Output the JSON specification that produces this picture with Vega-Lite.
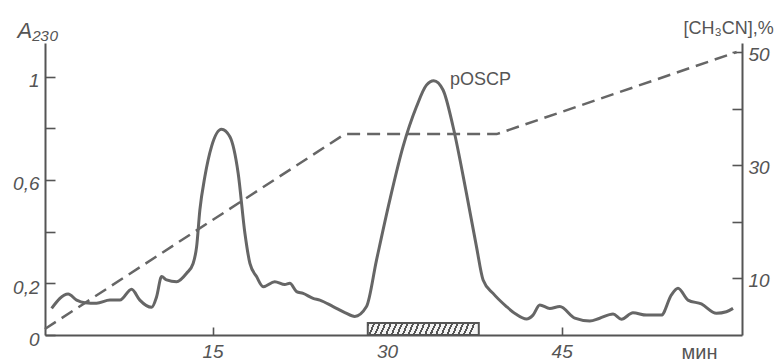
{
  "$schema": "https://vega.github.io/schema/vega-lite/v6.json",
  "autosize": {"type": "none"},
  "width": 697,
  "height": 292,
  "padding": {"left": 45, "top": 43, "right": 41, "bottom": 27},
  "background": "#ffffff",
  "config": {
    "view": {"stroke": null},
    "axis": {
      "grid": false,
      "domainColor": "#555555",
      "domainWidth": 2,
      "tickColor": "#555555",
      "tickWidth": 1.6,
      "labelFont": "Liberation Sans",
      "labelFontStyle": "italic",
      "labelFontSize": 19,
      "labelColor": "#555555",
      "titleFont": "Liberation Sans",
      "titleFontWeight": "normal",
      "titleColor": "#555555"
    }
  },
  "datasets": {
    "absorbance": [
      {"t": 1.17, "A": 0.103}, {"t": 2.59, "A": 0.159}, {"t": 3.32, "A": 0.135},
      {"t": 4.03, "A": 0.125}, {"t": 5.03, "A": 0.123}, {"t": 6.18, "A": 0.135},
      {"t": 7.04, "A": 0.135}, {"t": 8.04, "A": 0.177}, {"t": 8.75, "A": 0.135},
      {"t": 9.76, "A": 0.107}, {"t": 10.19, "A": 0.148}, {"t": 10.62, "A": 0.226},
      {"t": 11.05, "A": 0.213}, {"t": 11.91, "A": 0.206}, {"t": 12.77, "A": 0.239},
      {"t": 13.33, "A": 0.277}, {"t": 13.63, "A": 0.342}, {"t": 13.91, "A": 0.484},
      {"t": 14.34, "A": 0.613}, {"t": 14.91, "A": 0.729}, {"t": 15.77, "A": 0.796},
      {"t": 16.49, "A": 0.767}, {"t": 17.2, "A": 0.626}, {"t": 17.78, "A": 0.394},
      {"t": 18.21, "A": 0.277}, {"t": 18.78, "A": 0.226}, {"t": 19.35, "A": 0.187},
      {"t": 20.35, "A": 0.206}, {"t": 21.21, "A": 0.195}, {"t": 21.64, "A": 0.2},
      {"t": 22.22, "A": 0.168}, {"t": 22.78, "A": 0.161}, {"t": 23.64, "A": 0.142},
      {"t": 24.22, "A": 0.135}, {"t": 25.36, "A": 0.11}, {"t": 26.37, "A": 0.087},
      {"t": 27.22, "A": 0.072}, {"t": 28.23, "A": 0.11}, {"t": 29.09, "A": 0.29},
      {"t": 30.23, "A": 0.522}, {"t": 31.37, "A": 0.729}, {"t": 32.53, "A": 0.884},
      {"t": 33.38, "A": 0.967}, {"t": 34.01, "A": 0.984}, {"t": 34.81, "A": 0.948},
      {"t": 35.67, "A": 0.806}, {"t": 36.82, "A": 0.548}, {"t": 37.68, "A": 0.342},
      {"t": 38.25, "A": 0.213}, {"t": 39.11, "A": 0.161}, {"t": 40.26, "A": 0.11},
      {"t": 41.06, "A": 0.081}, {"t": 41.98, "A": 0.062}, {"t": 42.54, "A": 0.077},
      {"t": 43.12, "A": 0.116}, {"t": 43.98, "A": 0.103}, {"t": 44.84, "A": 0.11},
      {"t": 46.13, "A": 0.065}, {"t": 47.42, "A": 0.054}, {"t": 48.27, "A": 0.065},
      {"t": 49.42, "A": 0.081}, {"t": 50.14, "A": 0.061}, {"t": 51.13, "A": 0.086},
      {"t": 52.29, "A": 0.077}, {"t": 53.57, "A": 0.077}, {"t": 54.43, "A": 0.155},
      {"t": 55.0, "A": 0.181}, {"t": 55.86, "A": 0.135}, {"t": 57.01, "A": 0.12},
      {"t": 58.3, "A": 0.084}, {"t": 59.16, "A": 0.09}, {"t": 59.73, "A": 0.103}
    ],
    "gradient": [
      {"t": 0.59, "pct": 1.06},
      {"t": 26.36, "pct": 35.5},
      {"t": 39.42, "pct": 35.5},
      {"t": 60.04, "pct": 50.0}
    ],
    "fraction": [
      {"t": 28.34, "t1": 37.88, "A": 0, "a1": 0.046}
    ],
    "peakLabel": [
      {"t": 35.4, "A": 0.967, "label": "pOSCP"}
    ]
  },
  "layer": [
    {
      "layer": [
        {
          "data": {"name": "absorbance"},
          "mark": {"type": "line", "color": "#666666", "strokeWidth": 3, "interpolate": "monotone"},
          "encoding": {
            "x": {
              "field": "t", "type": "quantitative",
              "scale": {"domain": [0.6, 60.5], "nice": false, "zero": false},
              "axis": {
                "values": [15, 30, 45],
                "tickSize": -8,
                "labelPadding": 15,
                "title": "мин",
                "titleFontSize": 20,
                "titleFontStyle": "normal",
                "titleX": 654,
                "titleY": 17,
                "titleBaseline": "middle",
                "titleAlign": "center"
              }
            },
            "y": {
              "field": "A", "type": "quantitative",
              "scale": {"domain": [0, 1.13], "nice": false},
              "axis": {
                "values": [0, 0.2, 0.4, 0.6, 0.8, 1],
                "tickSize": -10,
                "labelPadding": 16,
                "labelOffset": 4,
                "labelExpr": "datum.value == 0.4 || datum.value == 0.8 ? '' : replace(format(datum.value, '.1~f'), '.', ',')",
                "title": "A₂₃₀",
                "titleFontSize": 22,
                "titleFontStyle": "italic",
                "titleAngle": 0,
                "titleAlign": "left",
                "titleBaseline": "alphabetic",
                "titleX": -28,
                "titleY": -6
              }
            }
          }
        },
        {
          "data": {"name": "fraction"},
          "mark": {
            "type": "rect",
            "stroke": "#555555",
            "strokeWidth": 2,
            "fill": {
              "gradient": "linear", "x1": 0, "y1": 0, "x2": 1, "y2": 0.046,
              "stops": [
                {"offset": 0, "color": "#555555"}, {"offset": 0.018, "color": "#555555"}, {"offset": 0.018, "color": "#f4f4f4"}, {"offset": 0.05, "color": "#f4f4f4"},
                {"offset": 0.05, "color": "#555555"}, {"offset": 0.068, "color": "#555555"}, {"offset": 0.068, "color": "#f4f4f4"}, {"offset": 0.1, "color": "#f4f4f4"},
                {"offset": 0.1, "color": "#555555"}, {"offset": 0.118, "color": "#555555"}, {"offset": 0.118, "color": "#f4f4f4"}, {"offset": 0.15, "color": "#f4f4f4"},
                {"offset": 0.15, "color": "#555555"}, {"offset": 0.168, "color": "#555555"}, {"offset": 0.168, "color": "#f4f4f4"}, {"offset": 0.2, "color": "#f4f4f4"},
                {"offset": 0.2, "color": "#555555"}, {"offset": 0.218, "color": "#555555"}, {"offset": 0.218, "color": "#f4f4f4"}, {"offset": 0.25, "color": "#f4f4f4"},
                {"offset": 0.25, "color": "#555555"}, {"offset": 0.268, "color": "#555555"}, {"offset": 0.268, "color": "#f4f4f4"}, {"offset": 0.3, "color": "#f4f4f4"},
                {"offset": 0.3, "color": "#555555"}, {"offset": 0.318, "color": "#555555"}, {"offset": 0.318, "color": "#f4f4f4"}, {"offset": 0.35, "color": "#f4f4f4"},
                {"offset": 0.35, "color": "#555555"}, {"offset": 0.368, "color": "#555555"}, {"offset": 0.368, "color": "#f4f4f4"}, {"offset": 0.4, "color": "#f4f4f4"},
                {"offset": 0.4, "color": "#555555"}, {"offset": 0.418, "color": "#555555"}, {"offset": 0.418, "color": "#f4f4f4"}, {"offset": 0.45, "color": "#f4f4f4"},
                {"offset": 0.45, "color": "#555555"}, {"offset": 0.468, "color": "#555555"}, {"offset": 0.468, "color": "#f4f4f4"}, {"offset": 0.5, "color": "#f4f4f4"},
                {"offset": 0.5, "color": "#555555"}, {"offset": 0.518, "color": "#555555"}, {"offset": 0.518, "color": "#f4f4f4"}, {"offset": 0.55, "color": "#f4f4f4"},
                {"offset": 0.55, "color": "#555555"}, {"offset": 0.568, "color": "#555555"}, {"offset": 0.568, "color": "#f4f4f4"}, {"offset": 0.6, "color": "#f4f4f4"},
                {"offset": 0.6, "color": "#555555"}, {"offset": 0.618, "color": "#555555"}, {"offset": 0.618, "color": "#f4f4f4"}, {"offset": 0.65, "color": "#f4f4f4"},
                {"offset": 0.65, "color": "#555555"}, {"offset": 0.668, "color": "#555555"}, {"offset": 0.668, "color": "#f4f4f4"}, {"offset": 0.7, "color": "#f4f4f4"},
                {"offset": 0.7, "color": "#555555"}, {"offset": 0.718, "color": "#555555"}, {"offset": 0.718, "color": "#f4f4f4"}, {"offset": 0.75, "color": "#f4f4f4"},
                {"offset": 0.75, "color": "#555555"}, {"offset": 0.768, "color": "#555555"}, {"offset": 0.768, "color": "#f4f4f4"}, {"offset": 0.8, "color": "#f4f4f4"},
                {"offset": 0.8, "color": "#555555"}, {"offset": 0.818, "color": "#555555"}, {"offset": 0.818, "color": "#f4f4f4"}, {"offset": 0.85, "color": "#f4f4f4"},
                {"offset": 0.85, "color": "#555555"}, {"offset": 0.868, "color": "#555555"}, {"offset": 0.868, "color": "#f4f4f4"}, {"offset": 0.9, "color": "#f4f4f4"},
                {"offset": 0.9, "color": "#555555"}, {"offset": 0.918, "color": "#555555"}, {"offset": 0.918, "color": "#f4f4f4"}, {"offset": 0.95, "color": "#f4f4f4"},
                {"offset": 0.95, "color": "#555555"}, {"offset": 0.968, "color": "#555555"}, {"offset": 0.968, "color": "#f4f4f4"}, {"offset": 1, "color": "#f4f4f4"}
              ]
            }
          },
          "encoding": {
            "x": {"field": "t", "type": "quantitative"},
            "x2": {"field": "t1"},
            "y": {"field": "A", "type": "quantitative"},
            "y2": {"field": "a1"}
          }
        },
        {
          "data": {"name": "peakLabel"},
          "mark": {"type": "text", "font": "Liberation Sans", "fontSize": 18, "color": "#555555", "align": "left", "baseline": "alphabetic"},
          "encoding": {
            "x": {"field": "t", "type": "quantitative"},
            "y": {"field": "A", "type": "quantitative"},
            "text": {"field": "label"}
          }
        }
      ]
    },
    {
      "data": {"name": "gradient"},
      "mark": {"type": "line", "color": "#666666", "strokeWidth": 2.5, "strokeDash": [13, 7]},
      "encoding": {
        "x": {"field": "t", "type": "quantitative"},
        "y": {
          "field": "pct", "type": "quantitative",
          "scale": {"domain": [0, 51.6], "nice": false},
          "axis": {
            "orient": "right",
            "values": [10, 20, 30, 40, 50],
            "tickSize": -10,
            "labelPadding": 16,
            "labelOffset": 2,
            "labelExpr": "datum.value % 20 == 10 ? datum.label : ''",
            "title": "[CH₃CN],%",
            "titleFontSize": 18,
            "titleFontStyle": "normal",
            "titleAngle": 0,
            "titleAlign": "left",
            "titleBaseline": "alphabetic",
            "titleX": -59,
            "titleY": -10
          }
        }
      }
    }
  ],
  "resolve": {"scale": {"y": "independent"}}
}
